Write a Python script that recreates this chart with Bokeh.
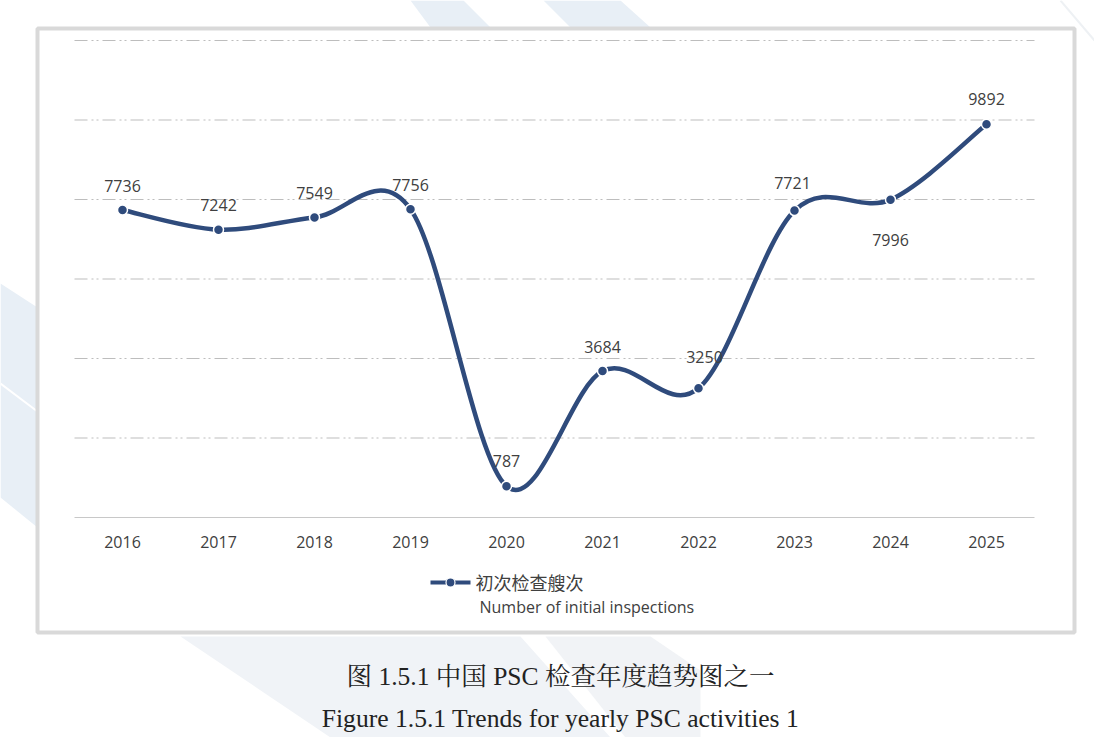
import numpy as np
from bokeh.plotting import figure
from bokeh.models import Range1d
from bokeh.core.properties import value
from bokeh.embed import file_html
from bokeh.resources import INLINE

# Initial PSC inspections per year
years = ["2016", "2017", "2018", "2019", "2020", "2021", "2022", "2023", "2024", "2025"]
inspections = [7736, 7242, 7549, 7756, 787, 3684, 3250, 7721, 7996, 9892]
grid_values = [2000, 4000, 6000, 8000, 10000, 12000]

legend_cn = "初次检查艘次"
legend_en = "Number of initial inspections"
caption_cn = "图 1.5.1 中国 PSC 检查年度趋势图之一"
caption_en = "Figure 1.5.1 Trends for yearly PSC activities 1"

W, H = 1094, 737
NAVY = "#2F4B7C"
LABEL = "#404040"
SANS = value("Open Sans")

# Plot-area geometry (pixels): category pitch and baseline
pitch = 96.0
first_x = 122.0
base_y = 517.0
top_y = 40.0
y_max = 12000.0
scale = (base_y - top_y) / y_max  # px per unit

x_range = Range1d(-first_x / pitch, (W - first_x) / pitch)
y_range = Range1d(-(H - base_y) / scale, base_y / scale)

p = figure(width=W, height=H, x_range=x_range, y_range=y_range,
           output_backend="svg", toolbar_location=None, min_border=0,
           outline_line_color=None, background_fill_color="white",
           border_fill_color="white")
p.axis.visible = False
p.grid.visible = False
p.extra_x_ranges = {"px": Range1d(0, W)}
p.extra_y_ranges = {"px": Range1d(H, 0)}

PX = dict(x_range_name="px", y_range_name="px")

# Faint background watermark shapes
wm = "#E8EFF6"
p.patch([410, 463, 490, 430], [0, 0, 27, 27], fill_color=wm, line_color=None, **PX)
p.patch([543, 620, 650, 570], [0, 0, 27, 27], fill_color=wm, line_color=None, **PX)
p.patch([0, 37, 37, 0], [283, 307, 527, 497], fill_color=wm, line_color=None, **PX)
p.line([0, 37], [383, 411], line_color="white", line_width=2, **PX)
p.patch([180, 520, 610, 330], [636, 636, 737, 737], fill_color="#F0F3F7", line_color=None, **PX)
p.patch([545, 650, 700, 700, 625], [636, 636, 670, 737, 737], fill_color="#F1F3F6",
        line_color=None, **PX)
p.line([1060, 1094], [0, 40], line_color="#EEF1F4", line_width=2, **PX)

# Chart panel with grey frame
p.quad(left=[37], right=[1074], top=[28], bottom=[632], fill_color="white",
       line_color="#D9D9D9", line_width=4, **PX)

idx = np.arange(len(years), dtype=float)
vals = np.array(inspections, dtype=float)

# Gridlines and category axis line
p.segment(x0=[-0.5] * len(grid_values), x1=[len(years) - 0.5] * len(grid_values),
          y0=grid_values, y1=grid_values, line_color="#BDBDBD", line_width=1,
          line_dash="13 4 2 3 2 4")
p.segment(x0=[-0.5], x1=[len(years) - 0.5], y0=[0], y1=[0],
          line_color="#C8C8C8", line_width=1)

# Category labels
p.text(x=idx, y=[0] * len(years), text=years, y_offset=24,
       text_align="center", text_baseline="middle", text_font=SANS,
       text_font_size="16px", text_color=LABEL)

# Smoothed series (Catmull-Rom style Bezier segments)
ext_x = np.concatenate([[idx[0]], idx, [idx[-1]]])
ext_y = np.concatenate([[vals[0]], vals, [vals[-1]]])
n = len(idx)
x0, y0 = idx[:-1], vals[:-1]
x1, y1 = idx[1:], vals[1:]
cx0 = x0 + (ext_x[2:n + 1] - ext_x[0:n - 1]) / 6.0
cy0 = y0 + (ext_y[2:n + 1] - ext_y[0:n - 1]) / 6.0
cx1 = x1 - (ext_x[3:n + 2] - ext_x[1:n]) / 6.0
cy1 = y1 - (ext_y[3:n + 2] - ext_y[1:n]) / 6.0
p.bezier(x0=x0, y0=y0, x1=x1, y1=y1, cx0=cx0, cy0=cy0, cx1=cx1, cy1=cy1,
         line_color=NAVY, line_width=4.5, line_cap="round")
p.scatter(idx, vals, size=10, fill_color=NAVY, line_color="white", line_width=1.5)

# Value labels
lab_dy = [-24, -25, -24, -24, -25, -24, -31, -28, 40, -25]
lab_dx = [0, 0, 0, 0, 0, 0, 6, -2, 0, 0]
p.text(x=idx, y=vals, text=[str(v) for v in inspections], x_offset=lab_dx,
       y_offset=lab_dy, text_align="center", text_baseline="middle",
       text_font=SANS, text_font_size="16px", text_color=LABEL)

# Legend
p.line([430, 470], [582, 582], line_color=NAVY, line_width=4, **PX)
p.scatter([450], [582], size=9, fill_color=NAVY, line_color="white", line_width=1.2, **PX)
p.text(x=[475], y=[581], text=[legend_cn], text_baseline="middle",
       text_font=value("Noto Sans CJK SC"), text_font_size="18px",
       text_color=LABEL, **PX)
p.text(x=[479], y=[606], text=[legend_en], text_baseline="middle",
       text_font=SANS, text_font_size="16px", text_color=LABEL, **PX)

# Captions
serif = value("'Liberation Serif', 'Noto Serif CJK SC', serif")
p.text(x=[560], y=[676], text=[caption_cn], text_align="center",
       text_baseline="middle", text_font=serif, text_font_size="25.5px",
       text_color="#222222", **PX)
p.text(x=[560], y=[718], text=[caption_en], text_align="center",
       text_baseline="middle", text_font=serif, text_font_size="25.6px",
       text_color="#222222", **PX)

open("out.html", "w").write(file_html(p, INLINE))
